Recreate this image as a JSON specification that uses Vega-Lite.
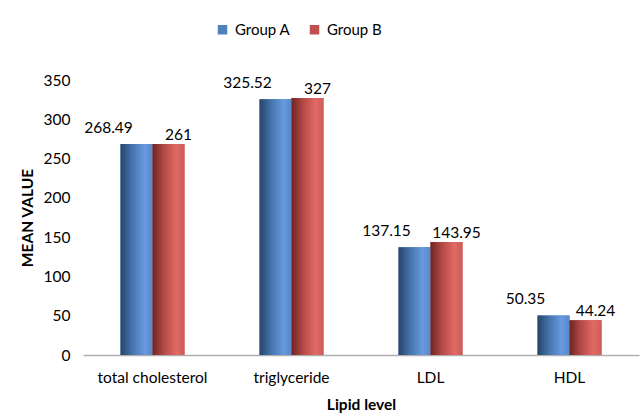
{
  "$schema": "https://vega.github.io/schema/vega-lite/v6.json",
  "autosize": "none",
  "width": 556,
  "height": 275,
  "padding": {"left": 83, "top": 80, "right": 1, "bottom": 61},
  "background": "white",
  "config": {
    "view": {"stroke": null},
    "font": "Lato",
    "axis": {"labelFont": "Lato", "titleFont": "Lato", "labelColor": "#000", "titleColor": "#000", "grid": false},
    "legend": {"labelFont": "Lato"}
  },
  "data": {
    "values": [
      {"lipid": "total cholesterol", "group": "Group A", "value": 268.49, "label": "268.49"},
      {"lipid": "total cholesterol", "group": "Group B", "value": 268.49, "label": "261"},
      {"lipid": "triglyceride", "group": "Group A", "value": 325.52, "label": "325.52"},
      {"lipid": "triglyceride", "group": "Group B", "value": 327, "label": "327"},
      {"lipid": "LDL", "group": "Group A", "value": 137.15, "label": "137.15"},
      {"lipid": "LDL", "group": "Group B", "value": 143.95, "label": "143.95"},
      {"lipid": "HDL", "group": "Group A", "value": 50.35, "label": "50.35"},
      {"lipid": "HDL", "group": "Group B", "value": 44.24, "label": "44.24"}
    ]
  },
  "encoding": {
    "x": {
      "field": "lipid", "type": "nominal", "sort": null,
      "scale": {"paddingInner": 0.54, "paddingOuter": 0.27},
      "axis": {"title": "Lipid level", "labelAngle": 0, "labelFontSize": 15.5, "labelPadding": 15, "ticks": false, "domainColor": "#b0b0b0", "domainWidth": 1.5, "titleFontSize": 15.5, "titleFontWeight": "bold", "titlePadding": 12}
    },
    "xOffset": {"field": "group", "type": "nominal", "scale": {"paddingInner": 0, "paddingOuter": 0}},
    "y": {
      "field": "value", "type": "quantitative",
      "scale": {"domain": [0, 350], "nice": false},
      "axis": {"title": "MEAN VALUE", "values": [0, 50, 100, 150, 200, 250, 300, 350], "domain": false, "ticks": false, "labelFontSize": 15.5, "labelPadding": 13, "titleFontSize": 15.5, "titleFontWeight": "bold", "titlePadding": 8}
    }
  },
  "layer": [
    {
      "mark": {"type": "bar"},
      "encoding": {
        "color": {
          "field": "group", "type": "nominal",
          "scale": {"domain": ["Group A", "Group B"], "range": ["#4f81bd", "#c0504d"]},
          "legend": {"title": null, "orient": "none", "legendX": 132, "legendY": -58, "direction": "horizontal", "symbolType": "square", "symbolSize": 90, "symbolStrokeWidth": 0, "labelFontSize": 15, "columnPadding": 16, "labelOffset": 5}
        }
      }
    },
    {
      "transform": [{"filter": "datum.group === 'Group A'"}],
      "mark": {"type": "bar", "fill": {"gradient": "linear", "x1": 0, "x2": 1, "y1": 0, "y2": 0, "stops": [
        {"offset": 0, "color": "#264467"},
        {"offset": 0.35, "color": "#4472ab"},
        {"offset": 0.75, "color": "#679bde"},
        {"offset": 1, "color": "#5787c8"}
      ]}}
    },
    {
      "transform": [{"filter": "datum.group === 'Group B'"}],
      "mark": {"type": "bar", "fill": {"gradient": "linear", "x1": 0, "x2": 1, "y1": 0, "y2": 0, "stops": [
        {"offset": 0, "color": "#6e2422"},
        {"offset": 0.35, "color": "#b34845"},
        {"offset": 0.75, "color": "#e06a66"},
        {"offset": 1, "color": "#cc5b58"}
      ]}}
    },
    {
      "transform": [{"filter": "datum.group === 'Group A'"}],
      "mark": {"type": "text", "fontSize": 15.5, "dx": -28, "dy": -16, "color": "#000"},
      "encoding": {"text": {"field": "label"}}
    },
    {
      "transform": [{"filter": "datum.group === 'Group B'"}],
      "mark": {"type": "text", "fontSize": 15.5, "dx": 10, "dy": -9, "color": "#000"},
      "encoding": {"text": {"field": "label"}}
    }
  ]
}
